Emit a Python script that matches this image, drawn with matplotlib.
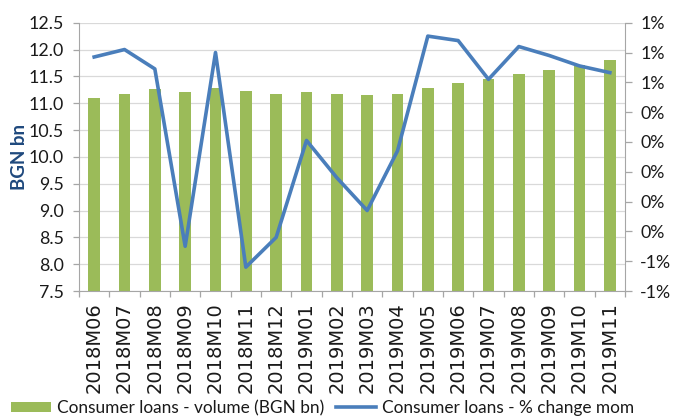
import matplotlib
matplotlib.use("Agg")
import matplotlib.pyplot as plt
import numpy as np
from matplotlib.ticker import FixedLocator, FuncFormatter

plt.rcParams['font.family'] = ['Lato', 'DejaVu Sans']

categories = ["2018M06", "2018M07", "2018M08", "2018M09", "2018M10", "2018M11", "2018M12",
              "2019M01", "2019M02", "2019M03", "2019M04", "2019M05", "2019M06", "2019M07",
              "2019M08", "2019M09", "2019M10", "2019M11"]
volume = [11.10, 11.18, 11.26, 11.20, 11.29, 11.22, 11.18, 11.20, 11.18, 11.16, 11.18,
          11.28, 11.37, 11.45, 11.55, 11.62, 11.71, 11.80]
pct_change = [0.77, 0.82, 0.69, -0.50, 0.80, -0.64, -0.44, 0.21, -0.04, -0.26, 0.14,
              0.91, 0.88, 0.62, 0.84, 0.78, 0.71, 0.665]

bar_color = "#9BBB59"
line_color = "#4A7EBB"
text_color = "#1A1A1A"

fig = plt.figure(figsize=(6.78, 4.16), dpi=100)
ax = fig.add_axes([79/678, 1 - 291/416, (625 - 79)/678, (291 - 22.7)/416])
ax2 = ax.twinx()

x = np.arange(len(categories))
bars = ax.bar(x, volume, width=0.385, color=bar_color, zorder=2,
              label="Consumer loans - volume (BGN bn)")
ax.set_ylim(7.5, 12.5)
ax.set_xlim(-0.5, len(categories) - 0.5)
ax.set_yticks(np.arange(7.5, 12.51, 0.5))
ax.yaxis.set_major_formatter(FuncFormatter(lambda v, p: f"{v:.1f}"))
ax.grid(axis='y', color="#D9D9D9", linewidth=0.9, zorder=0)
ax.set_axisbelow(True)
ax.tick_params(axis='y', length=4, width=0.9, color="#A6A6A6", labelsize=12.8,
               labelcolor=text_color, pad=7)
ax.set_xticks(x)
ax.set_xticklabels(categories, rotation=90, fontsize=14, color=text_color,
                   family=['DejaVu Sans'])
ax.xaxis.set_minor_locator(FixedLocator(np.arange(-0.5, len(categories), 1)))
ax.tick_params(axis='x', which='major', length=0, pad=8)
ax.tick_params(axis='x', which='minor', length=4, color="#A6A6A6", width=0.9)
ax.spines['top'].set_visible(False)
ax.spines['right'].set_visible(False)
ax.spines['left'].set_color("#A6A6A6")
ax.spines['bottom'].set_color("#A6A6A6")
ax.set_ylabel("BGN bn", fontsize=13.5, fontweight='bold', color="#1F497D", labelpad=0)

line, = ax2.plot(x, pct_change, color=line_color, linewidth=2.6, zorder=3,
                 label="Consumer loans - % change mom")
ax2.set_ylim(-0.8, 1.0)
ax2.set_yticks(np.arange(-0.8, 1.01, 0.2))
def pct_fmt(v, p):
    r = int(np.floor(abs(v) + 0.5)) * (1 if v >= 0 else -1)
    if r == 0:
        return "0%"
    return f"{r}%"
ax2.yaxis.set_major_formatter(FuncFormatter(pct_fmt))
ax2.tick_params(axis='y', length=5, width=0.9, color="#A6A6A6", labelsize=12.8,
                labelcolor=text_color, pad=6)
ax2.spines['right'].set_color("#A6A6A6")
ax2.spines['top'].set_visible(False)
ax2.spines['left'].set_visible(False)
ax2.spines['bottom'].set_visible(False)

leg = fig.legend(handles=[bars, line], loc='center left', bbox_to_anchor=(11/678, 1 - 408/416),
                 ncol=2, frameon=False, fontsize=12.4, handlelength=2.35, handleheight=0.6,
                 handletextpad=0.3, columnspacing=0.7, labelcolor=text_color,
                 borderpad=0, borderaxespad=0)

fig.savefig("out.png", dpi=100)
